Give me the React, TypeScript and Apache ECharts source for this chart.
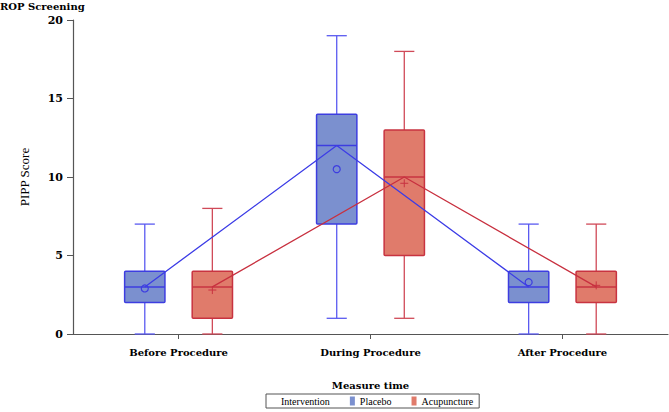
import React, { useEffect, useRef } from "react";
import * as echarts from "echarts";

const categories = ["Before Procedure", "During Procedure", "After Procedure"];
const groups = ["Placebo", "Acupuncture"];
// [min, q1, median, q3, max, mean]
const placeboStats = [
  [0, 2, 3, 4, 7, 2.9],
  [1, 7, 12, 14, 19, 10.5],
  [0, 2, 3, 4, 7, 3.3],
];
const acupunctureStats = [
  [0, 1, 3, 4, 8, 2.8],
  [1, 5, 10, 13, 18, 9.6],
  [0, 2, 3, 4, 7, 3.1],
];
const yTicks = [0, 5, 10, 15, 20];

const OFFSET = 0.176;
const BOX_W = 0.21;

const FILL = ["#7b90cf", "#e07b6b"];
const BORDER = ["#3d3de0", "#c83340"];
const WHISK = ["#5a5af0", "#d04a58"];
const LINE = ["#3c3ce6", "#c8303f"];

function makeRender(gi: number) {
  return (params: any, api: any) => {
    const x = api.value(0) + (gi === 0 ? -OFFSET : OFFSET);
    const mn = api.value(1), q1 = api.value(2), md = api.value(3), q3 = api.value(4), mx = api.value(5), mean = api.value(6);
    const hw = api.size([BOX_W, 0])[0] / 2;
    const cw = hw / 2;
    const pMin = api.coord([x, mn]);
    const pQ1 = api.coord([x, q1]);
    const pMd = api.coord([x, md]);
    const pQ3 = api.coord([x, q3]);
    const pMx = api.coord([x, mx]);
    const pMean = api.coord([x, mean]);
    const cx = pMd[0];
    const wStyle = { stroke: WHISK[gi], lineWidth: 1.3, fill: null };
    const bStyle = { stroke: BORDER[gi], lineWidth: 1.5 };
    const children: any[] = [
      { type: "line", shape: { x1: cx, y1: pQ3[1], x2: cx, y2: pMx[1] }, style: wStyle },
      { type: "line", shape: { x1: cx, y1: pQ1[1], x2: cx, y2: pMin[1] }, style: wStyle },
      { type: "line", shape: { x1: cx - cw, y1: pMx[1], x2: cx + cw, y2: pMx[1] }, style: wStyle },
      { type: "line", shape: { x1: cx - cw, y1: pMin[1], x2: cx + cw, y2: pMin[1] }, style: wStyle },
      {
        type: "rect",
        shape: { x: cx - hw, y: pQ3[1], width: hw * 2, height: pQ1[1] - pQ3[1], r: 1 },
        style: { fill: FILL[gi], stroke: BORDER[gi], lineWidth: 1.5 },
      },
      { type: "line", shape: { x1: cx - hw, y1: pMd[1], x2: cx + hw, y2: pMd[1] }, style: bStyle },
    ];
    if (gi === 0) {
      children.push({ type: "circle", shape: { cx, cy: pMean[1], r: 3.5 }, style: { fill: null, stroke: BORDER[gi], lineWidth: 1.2 } });
    } else {
      children.push({ type: "line", shape: { x1: cx - 4, y1: pMean[1], x2: cx + 4, y2: pMean[1] }, style: { stroke: BORDER[gi], lineWidth: 1 } });
      children.push({ type: "line", shape: { x1: cx, y1: pMean[1] - 4, x2: cx, y2: pMean[1] + 4 }, style: { stroke: BORDER[gi], lineWidth: 1 } });
    }
    return { type: "group", children };
  };
}

export default function App() {
  const ref = useRef<HTMLDivElement>(null);
  useEffect(() => {
    document.body.style.margin = "0";
    const chart = echarts.init(ref.current!, null, { renderer: "svg" });
    const serif = "DejaVu Serif";
    const statsList = [placeboStats, acupunctureStats];
    const series: any[] = [];
    groups.forEach((g, gi) => {
      series.push({
        name: g,
        type: "custom",
        renderItem: makeRender(gi),
        itemStyle: { color: FILL[gi] },
        encode: { x: 0, y: [1, 2, 3, 4, 5, 6] },
        data: statsList[gi].map((s, i) => [i + 1, ...s]),
        z: 2,
      });
    });
    groups.forEach((g, gi) => {
      series.push({
        name: g,
        type: "line",
        symbol: "none",
        lineStyle: { color: LINE[gi], width: 1.3 },
        itemStyle: { color: FILL[gi] },
        data: statsList[gi].map((s, i) => [i + 1 + (gi === 0 ? -OFFSET : OFFSET), s[2]]),
        z: 5,
        silent: true,
      });
    });
    series.push({ name: "Intervention", type: "line", data: [] });

    chart.setOption({
      animation: false,
      title: {
        text: "ROP Screening",
        left: 0,
        top: 1,
        textStyle: { fontFamily: serif, fontWeight: "bold", fontSize: 10, color: "#000" },
        padding: 0,
      },
      grid: { left: 73, top: 20, right: 1, bottom: 78 },
      xAxis: {
        type: "value",
        min: 0.45,
        max: 3.55,
        name: "Measure time",
        nameLocation: "middle",
        nameGap: 46,
        nameTextStyle: { fontFamily: serif, fontWeight: "bold", fontSize: 10, color: "#000" },
        axisLine: { lineStyle: { color: "#555", width: 1.2 } },
        axisTick: { show: true, length: 5, customValues: [1, 2, 3], lineStyle: { color: "#555" } },
        axisLabel: {
          customValues: [1, 2, 3],
          formatter: (v: number) => categories[Math.round(v) - 1] ?? "",
          fontFamily: serif,
          fontWeight: "bold",
          fontSize: 10,
          color: "#000",
          margin: 13,
        },
        splitLine: { show: false },
      },
      yAxis: {
        type: "value",
        min: yTicks[0],
        max: yTicks[yTicks.length - 1],
        interval: 5,
        name: "PIPP Score",
        nameLocation: "middle",
        nameGap: 42,
        nameTextStyle: { fontFamily: "Liberation Serif", fontSize: 13, color: "#000" },
        axisLine: { show: true, lineStyle: { color: "#555", width: 1.2 } },
        axisTick: { show: true, length: 6, lineStyle: { color: "#555" } },
        axisLabel: { fontFamily: serif, fontWeight: "bold", fontSize: 11, color: "#000", margin: 10 },
        splitLine: { show: false },
      },
      legend: {
        data: [{ name: "Intervention", icon: "none" }, { name: "Placebo", icon: "rect" }, { name: "Acupuncture", icon: "rect" }],
        left: 266,
        top: 394,
        itemWidth: 5,
        itemHeight: 9,
        itemGap: 20,
        padding: [2, 6, 2, 5],
        borderColor: "#555",
        borderWidth: 1,
        selectedMode: false,
        textStyle: { fontFamily: "Liberation Serif", fontSize: 10, color: "#000" },
      },
      series,
    });
    return () => chart.dispose();
  }, []);
  return <div ref={ref} style={{ width: 669, height: 412 }} />;
}
